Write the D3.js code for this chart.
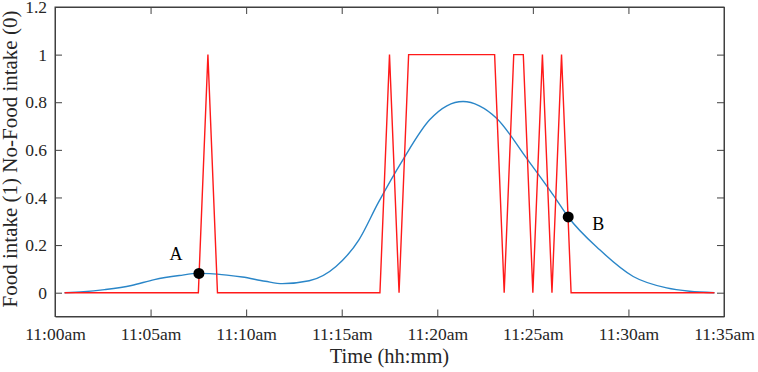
<!DOCTYPE html>
<html>
<head>
<meta charset="utf-8">
<script src="https://cdn.jsdelivr.net/npm/d3@7"></script>
<style>
  body { margin: 0; background: #fff; }
  svg text { font-family: "Liberation Serif", "Times New Roman", serif; fill: #262626; }
</style>
</head>
<body>
<div id="chart"></div>
<script>
// minutes after 11:00am
var intakeTimes = [0.5, 7.5, 8, 8.5, 17, 17.5, 18, 18.5, 23, 23.5, 24, 24.5, 25, 25.5, 26, 26.5, 27, 34.5]
var intakeValues = [0, 0, 1, 0, 0, 1, 0, 1, 1, 0, 1, 1, 0, 1, 0, 1, 0, 0]

var curveTimes = [0.5, 1.5, 2.6, 4, 5.2, 6.5, 7.5, 8.1, 9, 9.8, 11, 11.9, 13.3, 14.7, 15.9, 16.9, 18.2, 19.6, 20.5, 21.35, 22.2, 23.1, 24.67, 26.06, 26.85, 28.5, 30.25, 32, 33.2, 34.5]
var curveValues = [0, 0.004, 0.013, 0.03, 0.055, 0.072, 0.081, 0.080, 0.074, 0.066, 0.048, 0.038, 0.050, 0.110, 0.222, 0.376, 0.558, 0.726, 0.785, 0.803, 0.785, 0.733, 0.565, 0.411, 0.318, 0.180, 0.068, 0.020, 0.006, 0]

var markerNames = ["A", "B"]
var markerTimes = [7.53, 26.85]
var markerValues = [0.081, 0.318]

var yTicks = [0, 0.2, 0.4, 0.6, 0.8, 1, 1.2]
var xTickMinutes = [0, 5, 10, 15, 20, 25, 30, 35]

var W = 758, H = 372
var plotLeft = 55, plotRight = 724, plotTop = 7, plotBottom = 316.5

var start = new Date(2020, 0, 1, 11, 0, 0)
function toDate(m) { return new Date(start.getTime() + m * 60000) }

var svg = d3.select("#chart").append("svg")
    .attr("width", W)
    .attr("height", H)

var x = d3.scaleTime()
    .domain([toDate(0), toDate(35)])
    .range([plotLeft, plotRight])

var y = d3.scaleLinear()
    .domain([-0.1, 1.2])
    .range([plotBottom, plotTop])

var fmt = function (d) {
    var h = d.getHours(), m = d.getMinutes()
    return h + ":" + (m < 10 ? "0" : "") + m + (h < 12 ? "am" : "pm")
}

// axes (MATLAB style box, ticks pointing in)
svg.append("g")
    .attr("transform", "translate(0," + plotBottom + ")")
    .call(d3.axisBottom(x).tickValues(xTickMinutes.map(toDate)).tickFormat(fmt)
        .tickSizeInner(-7).tickSizeOuter(0).tickPadding(11))
svg.append("g")
    .attr("transform", "translate(0," + plotTop + ")")
    .call(d3.axisTop(x).tickValues(xTickMinutes.map(toDate)).tickFormat("")
        .tickSizeInner(-7).tickSizeOuter(0))
svg.append("g")
    .attr("transform", "translate(" + plotLeft + ",0)")
    .call(d3.axisLeft(y).tickValues(yTicks).tickFormat(d3.format("~g"))
        .tickSizeInner(-7).tickSizeOuter(0).tickPadding(8))
svg.append("g")
    .attr("transform", "translate(" + plotRight + ",0)")
    .call(d3.axisRight(y).tickValues(yTicks).tickFormat("")
        .tickSizeInner(-7).tickSizeOuter(0))

svg.selectAll(".domain, .tick line").attr("stroke", "#404040")
svg.selectAll(".tick text").style("font-size", "17.5px").style("fill", "#262626")

svg.append("rect")
    .attr("x", plotLeft).attr("y", plotTop)
    .attr("width", plotRight - plotLeft).attr("height", plotBottom - plotTop)
    .attr("fill", "none").attr("stroke", "#404040")

// blue curve
var curveData = curveTimes.map(function (t, i) { return [toDate(t), curveValues[i]] })
svg.append("path")
    .datum(curveData)
    .attr("fill", "none")
    .attr("stroke", "#2a86c8")
    .attr("stroke-width", 1.4)
    .attr("d", d3.line().x(d => x(d[0])).y(d => y(d[1])).curve(d3.curveMonotoneX))

// red intake signal
var intakeData = intakeTimes.map(function (t, i) { return [toDate(t), intakeValues[i]] })
svg.append("path")
    .datum(intakeData)
    .attr("fill", "none")
    .attr("stroke", "#ff1a1a")
    .attr("stroke-width", 1.4)
    .attr("d", d3.line().x(d => x(d[0])).y(d => y(d[1])))

// markers
var markers = markerNames.map(function (n, i) { return { name: n, t: markerTimes[i], v: markerValues[i] } })
svg.selectAll(".mk")
    .data(markers)
    .join("circle")
    .attr("cx", d => x(toDate(d.t)))
    .attr("cy", d => y(d.v))
    .attr("r", 5.5)
    .attr("fill", "#000")

svg.selectAll(".mklabel")
    .data(markers)
    .join("text")
    .attr("x", d => x(toDate(d.t)) + (d.name == "A" ? -23 : 30))
    .attr("y", d => y(d.v) + (d.name == "A" ? -13 : 13))
    .attr("text-anchor", "middle")
    .style("font-size", "18px")
    .style("fill", "#000")
    .text(d => d.name)

// axis titles
svg.append("text")
    .attr("x", (plotLeft + plotRight) / 2)
    .attr("y", 363)
    .attr("text-anchor", "middle")
    .style("font-size", "20.5px")
    .text("Time (hh:mm)")

svg.append("text")
    .attr("transform", "translate(17," + 159 + ")rotate(-90)")
    .attr("text-anchor", "middle")
    .style("font-size", "21px")
    .text("Food intake (1) No-Food intake (0)")
</script>
</body>
</html>
